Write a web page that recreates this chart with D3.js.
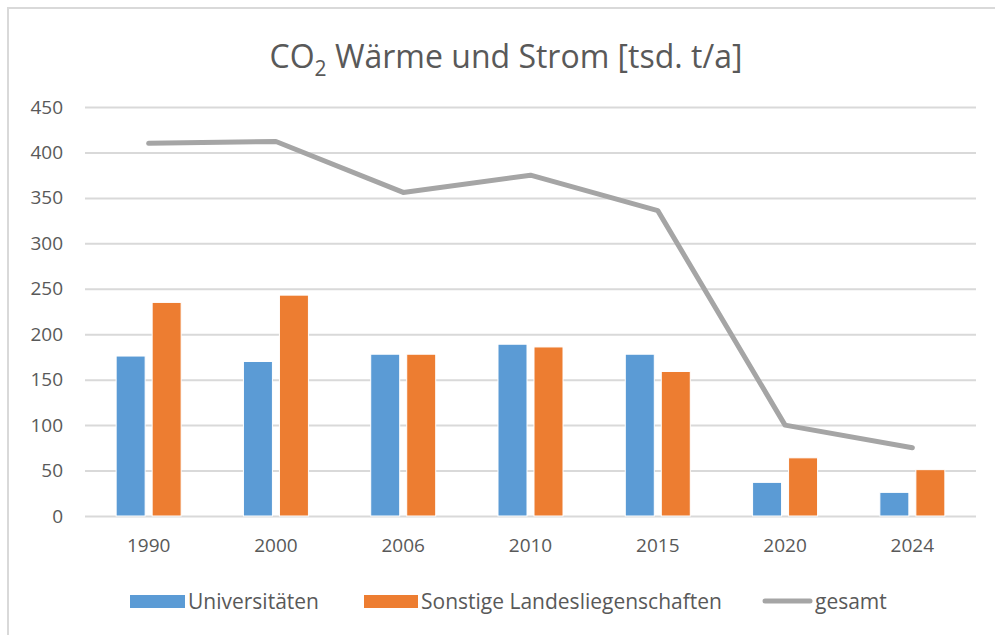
<!DOCTYPE html>
<html><head><meta charset="utf-8">
<script src="https://cdn.jsdelivr.net/npm/d3@7"></script>
<style>body{margin:0;background:#fff}</style>
</head><body>
<svg id="c" width="995" height="635"></svg>
<script>
const years = ["1990","2000","2006","2010","2015","2020","2024"];
const universitaeten = [176, 170, 178, 189, 178, 37, 26];
const sonstige = [235, 243, 178, 186, 159, 64, 51];
const gesamt = [410, 412, 356, 375, 336, 100, 75];
const yTicks = [0,50,100,150,200,250,300,350,400,450];
const seriesNames = ["Universitäten","Sonstige Landesliegenschaften","gesamt"];
const colors = ["#5b9bd5","#ed7d31","#a5a5a5"];

const svg = d3.select("#c");
const font = "'Open Sans', sans-serif";
const txt = "#595959";

svg.append("rect").attr("x",8).attr("y",8).attr("width",1000).attr("height",640)
  .attr("fill","none").attr("stroke","#d9d9d9").attr("stroke-width",2);

const L=85, R=976, T=107, B=516;
const x = d3.scaleBand().domain(years).range([L,R]);
const y = d3.scaleLinear().domain([0,450]).range([B,T]);

// title
const title = svg.append("text").attr("x",506).attr("y",68).attr("text-anchor","middle")
  .attr("font-family",font).attr("font-size",32).attr("fill",txt);
title.append("tspan").text("CO");
title.append("tspan").attr("font-size",21).attr("dy",8).text("2");
title.append("tspan").attr("dy",-8).text(" Wärme und Strom [tsd. t/a]");

// grid
const yAxis = d3.axisLeft(y).tickValues(yTicks).tickSize(-(R-L)).tickPadding(22);
const gy = svg.append("g").attr("transform",`translate(${L},0)`).call(yAxis);
gy.select(".domain").remove();
gy.selectAll(".tick line").attr("stroke","#d9d9d9").attr("stroke-width",2);
gy.selectAll(".tick text").attr("font-family",font).attr("font-size",19).attr("fill",txt);

const xAxis = d3.axisBottom(x).tickSize(0).tickPadding(23);
const gx = svg.append("g").attr("transform",`translate(0,${B})`).call(xAxis);
gx.select(".domain").remove();
gx.selectAll(".tick text").attr("font-family",font).attr("font-size",19).attr("fill",txt);

const bw = 29, gap = 7;
const g = svg.append("g");
[universitaeten, sonstige].forEach((arr,si)=>{
  g.selectAll(null).data(arr).enter().append("rect")
    .attr("x",(d,i)=>x(years[i]) + x.bandwidth()/2 + (si===0 ? -gap/2-bw : gap/2))
    .attr("y",d=>y(d)).attr("width",bw).attr("height",d=>B-y(d))
    .attr("fill",colors[si]).attr("stroke","#fff").attr("stroke-width",1);
});

const line = d3.line().x((d,i)=>x(years[i])+x.bandwidth()/2).y(d=>y(d));
svg.append("path").datum(gesamt).attr("d",line).attr("fill","none")
  .attr("stroke",colors[2]).attr("stroke-width",5).attr("stroke-linecap","round").attr("stroke-linejoin","round");

// legend
const leg = [{x:130,w:55,t:0},{x:364,w:54,t:1},{x:763,w:49,t:2}];
leg.forEach(l=>{
  if(l.t<2){
    svg.append("rect").attr("x",l.x).attr("y",595).attr("width",l.w).attr("height",13).attr("fill",colors[l.t]);
  } else {
    svg.append("line").attr("x1",l.x+2).attr("x2",l.x+l.w-2).attr("y1",601).attr("y2",601)
      .attr("stroke",colors[2]).attr("stroke-width",5).attr("stroke-linecap","round");
  }
  svg.append("text").attr("x",l.x+l.w+3).attr("y",609).attr("font-family",font).attr("font-size",21)
    .attr("fill",txt).text(seriesNames[l.t]);
});
</script>
</body></html>
